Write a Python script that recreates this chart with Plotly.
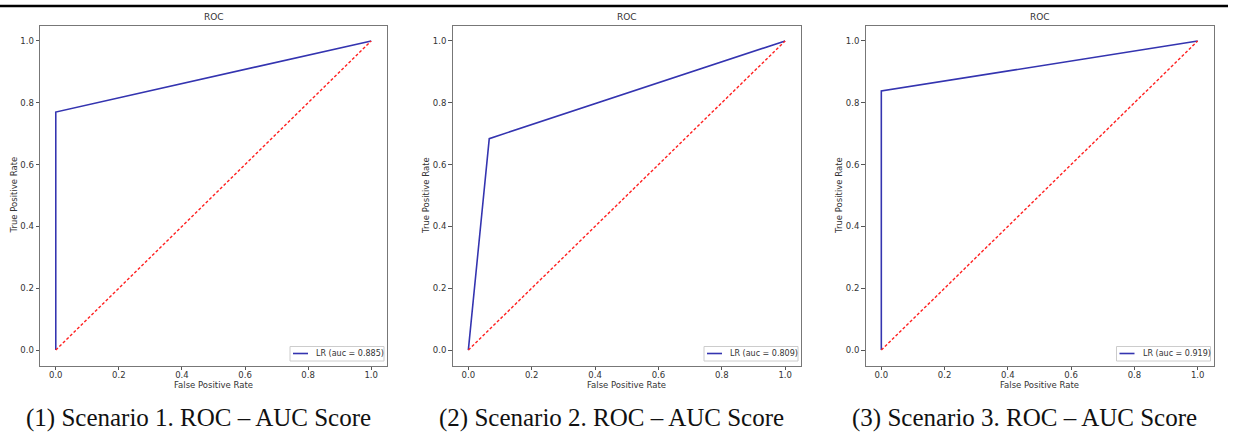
import plotly.graph_objects as go

# ---- data ----
fpr_s1 = [0.0, 0.0, 1.0]
tpr_s1 = [0.0, 0.77, 1.0]
fpr_s2 = [0.0, 0.066, 1.0]
tpr_s2 = [0.0, 0.684, 1.0]
fpr_s3 = [0.0, 0.0, 1.0]
tpr_s3 = [0.0, 0.838, 1.0]
auc_values = [0.885, 0.809, 0.919]
chance_x = [0.0, 1.0]
chance_y = [0.0, 1.0]
tick_vals = [0.0, 0.2, 0.4, 0.6, 0.8, 1.0]
captions = ["(1) Scenario 1. ROC \u2013 AUC Score",
            "(2) Scenario 2. ROC \u2013 AUC Score",
            "(3) Scenario 3. ROC \u2013 AUC Score"]

W, H = 1233, 447
fig = go.Figure()

panels = [
    (fpr_s1, tpr_s1, 40, 387),
    (fpr_s2, tpr_s2, 452.5, 801),
    (fpr_s3, tpr_s3, 865.5, 1213.5),
]
top_px, bot_px = 25.5, 365.5
FONT = dict(family="DejaVu Sans", size=8.5, color="#333")
LEG_FONT = dict(family="DejaVu Sans", size=8, color="#333")
LINE_BLUE = "#3434b0"


def px(xp):
    return xp / W


def py(yp):
    return 1 - yp / H


for i, (fx, ty, lpx, rpx) in enumerate(panels):
    n = i + 1
    xa = "x" if n == 1 else f"x{n}"
    ya = "y" if n == 1 else f"y{n}"
    fig.add_trace(go.Scatter(x=fx, y=ty, mode="lines", xaxis=xa, yaxis=ya,
                             line=dict(color=LINE_BLUE, width=1.6),
                             name=f"LR (auc = {auc_values[i]:.3f})",
                             showlegend=False))
    fig.add_trace(go.Scatter(x=chance_x, y=chance_y, mode="lines", xaxis=xa, yaxis=ya,
                             line=dict(color="#ff2020", width=1.4, dash="3px,2px"),
                             showlegend=False, hoverinfo="skip"))
    axis_common = dict(range=[-0.05, 1.05], tickvals=tick_vals, tickformat=".1f",
                       showline=True, mirror=True, linecolor="#777", linewidth=1,
                       ticks="outside", ticklen=3.5, tickcolor="#555", tickwidth=1,
                       showgrid=False, zeroline=False, tickfont=FONT, automargin=False)
    xkey = "xaxis" if n == 1 else f"xaxis{n}"
    ykey = "yaxis" if n == 1 else f"yaxis{n}"
    fig.update_layout({
        xkey: dict(domain=[px(lpx), px(rpx)], anchor=ya, ticklabelstandoff=-2, **axis_common),
        ykey: dict(domain=[py(bot_px), py(top_px)], anchor=xa, **axis_common),
    })
    cx = (lpx + rpx) / 2
    # axis titles
    fig.add_annotation(text="False Positive Rate", x=px(cx), y=py(385), xref="paper", yref="paper",
                       xanchor="center", yanchor="middle", showarrow=False, font=FONT)
    fig.add_annotation(text="True Positive Rate", x=px(lpx - 26), y=py((top_px + bot_px) / 2),
                       xref="paper", yref="paper", xanchor="center", yanchor="middle",
                       textangle=-90, showarrow=False, font=FONT)
    # panel title
    fig.add_annotation(text="ROC", x=px(cx), y=py(17), xref="paper", yref="paper",
                       xanchor="center", yanchor="middle",
                       showarrow=False, font=dict(family="DejaVu Sans", size=9, color="#333"))
    # caption
    fig.add_annotation(text=captions[i], x=px(cx - 15), y=py(418), xref="paper", yref="paper",
                       xanchor="center", yanchor="middle",
                       showarrow=False, font=dict(family="Liberation Serif", size=25, color="#111"))
    # legend box (drawn like matplotlib's legend frame)
    fig.add_shape(type="rect", xref="paper", yref="paper",
                  x0=px(rpx - 97), x1=px(rpx - 3), y0=py(bot_px - 4.5), y1=py(bot_px - 19),
                  line=dict(color="#cccccc", width=1), fillcolor="white", layer="above")
    fig.add_shape(type="line", xref="paper", yref="paper",
                  x0=px(rpx - 94), x1=px(rpx - 79), y0=py(bot_px - 12), y1=py(bot_px - 12),
                  line=dict(color=LINE_BLUE, width=1.6), layer="above")
    fig.add_annotation(text=f"LR (auc = {auc_values[i]:.3f})", x=px(rpx - 73), y=py(bot_px - 12),
                       xref="paper", yref="paper", xanchor="left", yanchor="middle",
                       showarrow=False, font=LEG_FONT)

fig.add_shape(type="line", xref="paper", yref="paper", x0=0, x1=px(1228),
              y0=py(6), y1=py(6), line=dict(color="black", width=2.5))

fig.update_layout(width=W, height=H, margin=dict(l=0, r=0, t=0, b=0),
                  paper_bgcolor="white", plot_bgcolor="white", showlegend=False)

fig.write_html("out.html", config={"displayModeBar": False},
               post_script="document.body.style.margin='0';document.body.style.overflow='hidden';")
